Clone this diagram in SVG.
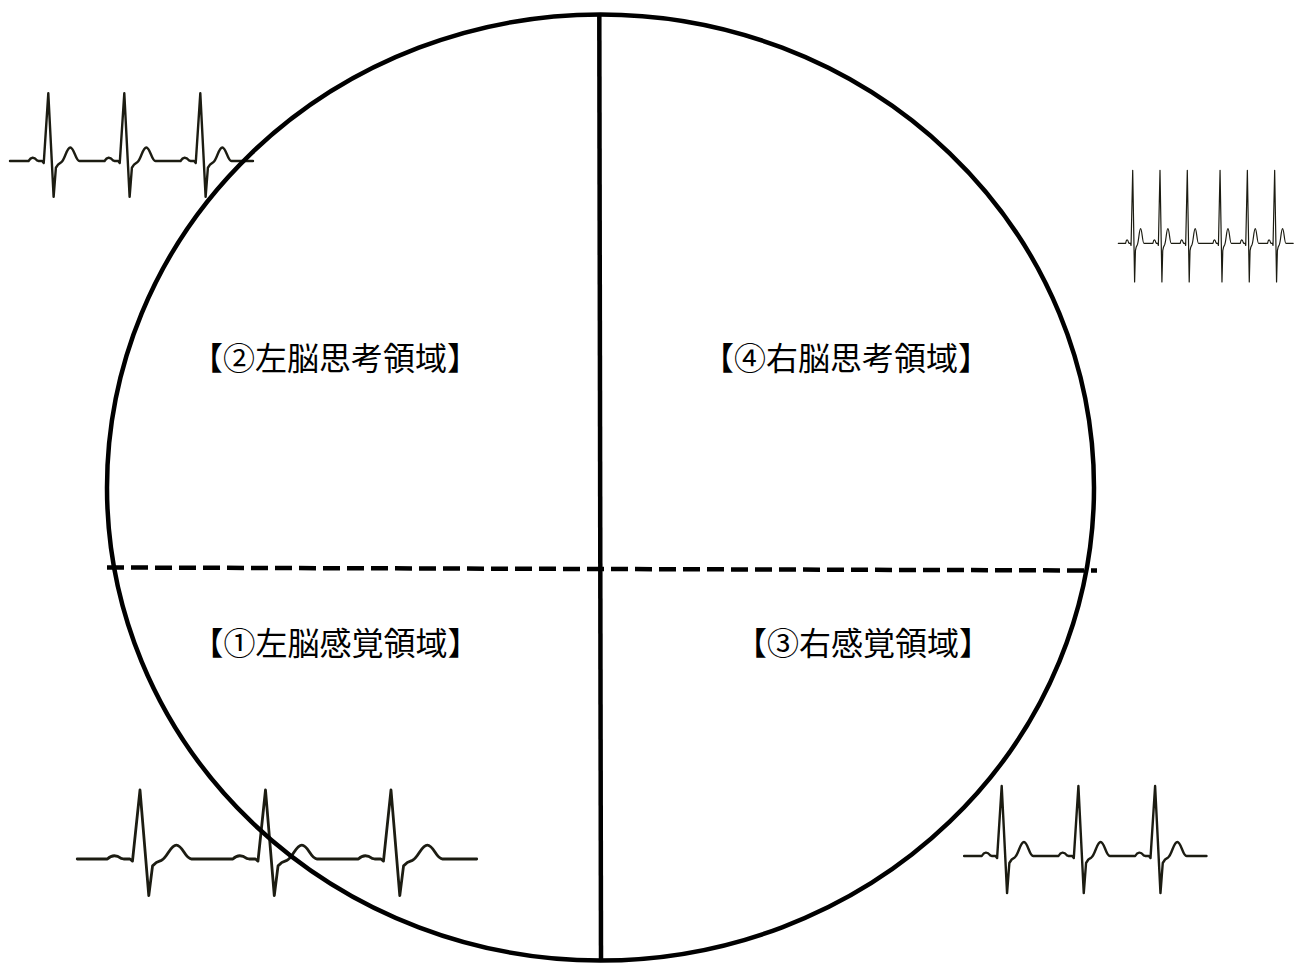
<svg xmlns="http://www.w3.org/2000/svg" xmlns:xlink="http://www.w3.org/1999/xlink" width="1297" height="965" viewBox="0 0 1297 965">
  <style>
    .ecg { fill: none; stroke: #1c1c12; stroke-linejoin: round; stroke-linecap: round; vector-effect: non-scaling-stroke; }
    .frame { fill: none; stroke: #000; stroke-width: 4.5; }
    .dash { stroke: #000; stroke-width: 4.5; stroke-dasharray: 17 7; fill: none; }
    .lbl { font-family: "Noto Sans CJK JP", "Noto Sans", sans-serif; font-size: 32px; fill: #000; text-anchor: middle; dominant-baseline: central; }
  </style>
  <rect width="1297" height="965" fill="#fff"/>

  <g id="ecg-traces">
    <g id="ecg-top-left" transform="translate(48.3,161) scale(0.76,0.677)">
      <path class="ecg" stroke-width="2.4" d="M-50.4 0 H-26 q5 -9 11 -1 l2 1 l5 0 l2 3 l6 -103 l7 153 l3 -43 l3 -5 l4 -3 c5 -4 7 -22 12 -22 c5 0 7 20 12 20 h33 q5 -9 11 -1 l2 1 l5 0 l2 3 l6 -103 l7 153 l3 -43 l3 -5 l4 -3 c5 -4 7 -22 12 -22 c5 0 7 20 12 20 h33 q5 -9 11 -1 l2 1 l5 0 l2 3 l6 -103 l7 153 l3 -43 l3 -5 l4 -3 c5 -4 7 -22 12 -22 c5 0 7 20 12 20 H269.3"/>
    </g>
    <g id="ecg-top-right" transform="translate(1132.7,243.3) scale(0.273,0.73)">
      <path class="ecg" stroke-width="1.2" d="M-52.7 0 H-26 q5 -9 11 -1 l2 1 l5 0 l2 3 l6 -103 l7 153 l3 -43 l3 -5 l4 -3 c5 -4 7 -22 12 -22 c5 0 7 20 12 20 h33 q5 -9 11 -1 l2 1 l5 0 l2 3 l6 -103 l7 153 l3 -43 l3 -5 l4 -3 c5 -4 7 -22 12 -22 c5 0 7 20 12 20 h33 q5 -9 11 -1 l2 1 l5 0 l2 3 l6 -103 l7 153 l3 -43 l3 -5 l4 -3 c5 -4 7 -22 12 -22 c5 0 7 20 12 20 h53 q5 -9 11 -1 l2 1 l5 0 l2 3 l6 -103 l7 153 l3 -43 l3 -5 l4 -3 c5 -4 7 -22 12 -22 c5 0 7 20 12 20 h33 q5 -9 11 -1 l2 1 l5 0 l2 3 l6 -103 l7 153 l3 -43 l3 -5 l4 -3 c5 -4 7 -22 12 -22 c5 0 7 20 12 20 h33 q5 -9 11 -1 l2 1 l5 0 l2 3 l6 -103 l7 153 l3 -43 l3 -5 l4 -3 c5 -4 7 -22 12 -22 c5 0 7 20 12 20 H588"/>
    </g>
    <g id="ecg-bottom-left" transform="translate(140,859) scale(1.255,0.69)">
      <path class="ecg" stroke-width="2.8" d="M-50 0 H-26 q5 -9 11 -1 l2 1 l5 0 l2 3 l6 -103 l7 153 l3 -43 l3 -5 l4 -3 c5 -4 7 -22 12 -22 c5 0 7 20 12 20 h33 q5 -9 11 -1 l2 1 l5 0 l2 3 l6 -103 l7 153 l3 -43 l3 -5 l4 -3 c5 -4 7 -22 12 -22 c5 0 7 20 12 20 h33 q5 -9 11 -1 l2 1 l5 0 l2 3 l6 -103 l7 153 l3 -43 l3 -5 l4 -3 c5 -4 7 -22 12 -22 c5 0 7 20 12 20 H268.3"/>
    </g>
    <g id="ecg-bottom-right" transform="translate(1001.7,856) scale(0.767,0.70)">
      <path class="ecg" stroke-width="2.4" d="M-49 0 H-26 q5 -9 11 -1 l2 1 l5 0 l2 3 l6 -103 l7 153 l3 -43 l3 -5 l4 -3 c5 -4 7 -22 12 -22 c5 0 7 20 12 20 h33 q5 -9 11 -1 l2 1 l5 0 l2 3 l6 -103 l7 153 l3 -43 l3 -5 l4 -3 c5 -4 7 -22 12 -22 c5 0 7 20 12 20 h33 q5 -9 11 -1 l2 1 l5 0 l2 3 l6 -103 l7 153 l3 -43 l3 -5 l4 -3 c5 -4 7 -22 12 -22 c5 0 7 20 12 20 H267"/>
    </g>
  </g>

  <g id="connectors">
    <ellipse class="frame" cx="600.5" cy="487.5" rx="493.5" ry="473"/>
    <line class="frame" x1="599.3" y1="14" x2="601" y2="962"/>
    <line class="dash" x1="107" y1="567.5" x2="1097" y2="570.5"/>
  </g>

  <g id="node-left-thinking">
    <text class="lbl" x="335" y="356">【②左脳思考領域】</text>
  </g>
  <g id="node-right-thinking">
    <text class="lbl" x="846" y="356">【④右脳思考領域】</text>
  </g>
  <g id="node-left-sensory">
    <text class="lbl" x="335.5" y="641">【①左脳感覚領域】</text>
  </g>
  <g id="node-right-sensory">
    <text class="lbl" x="863" y="641">【③右感覚領域】</text>
  </g>
</svg>
